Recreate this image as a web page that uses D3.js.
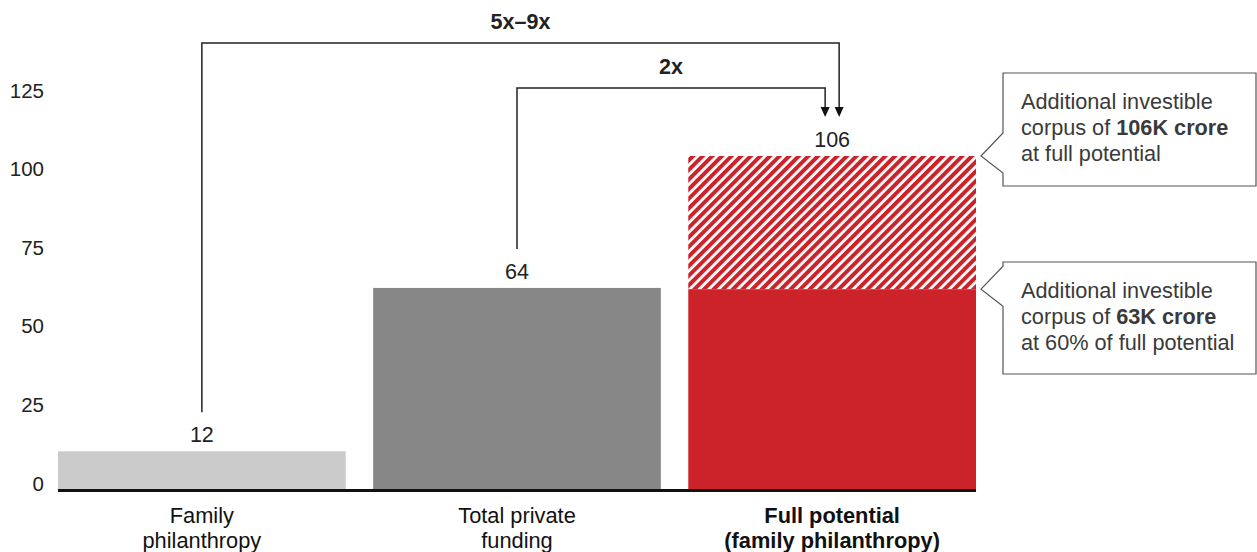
<!DOCTYPE html>
<html>
<head>
<meta charset="utf-8">
<script src="https://cdn.jsdelivr.net/npm/d3@7"></script>
<style>
  html, body { margin: 0; padding: 0; background: #fff; }
  svg { display: block; font-family: "Liberation Sans", Arial, sans-serif; }
</style>
</head>
<body>
<svg id="chart" width="1257" height="552"></svg>
<script>
// Investible corpus (thousand crore)
const categories = ["Family philanthropy", "Total private funding", "Full potential (family philanthropy)"];
const categoryLines = [["Family", "philanthropy"], ["Total private", "funding"], ["Full potential", "(family philanthropy)"]];
const totals = [12, 64, 106];
const solidPart = [12, 64, 63.6];     // solid portion; the remainder of the last bar is hatched
const barColors = ["#cbcbcb", "#878787", "#cc2229"];
const yTicks = [0, 25, 50, 75, 100, 125];
const multipliers = [
  { from: 0, to: 2, label: "5x–9x" },
  { from: 1, to: 2, label: "2x" }
];
const callouts = [
  { at: 106, lines: [["Additional investible"], ["corpus of ", "106K crore"], ["at full potential"]] },
  { at: 63.6, lines: [["Additional investible"], ["corpus of ", "63K crore"], ["at 60% of full potential"]] }
];

const svg = d3.select("#chart");

const x = d3.scaleBand().domain(categories).range([58, 976]).paddingInner(0.087).paddingOuter(0);
const y = d3.scaleLinear().domain([0, 125]).range([489, 96.3]);

// hatch pattern for the unrealised potential
const defs = svg.append("defs");
const pat = defs.append("pattern")
  .attr("id", "hatch")
  .attr("patternUnits", "userSpaceOnUse")
  .attr("width", 6.8).attr("height", 6.8)
  .attr("patternTransform", "rotate(45)");
pat.append("rect").attr("width", 6.8).attr("height", 6.8).attr("fill", "#fff");
pat.append("rect").attr("width", 4).attr("height", 6.8).attr("fill", "#cc2229");

// y axis tick labels
const yAxis = svg.append("g").attr("transform", "translate(44,0)")
  .call(d3.axisLeft(y).tickValues(yTicks).tickSize(0).tickPadding(0));
yAxis.select(".domain").remove();
yAxis.selectAll("text")
  .attr("font-size", 20.5).attr("fill", "#222")
  .attr("font-family", "Liberation Sans, Arial, sans-serif")
  .attr("dy", null).attr("y", 1);

// hatched tops
svg.append("g").selectAll("rect.hatch")
  .data(categories.map((c, i) => ({ c, total: totals[i], solid: solidPart[i] })).filter(d => d.total > d.solid))
  .join("rect")
  .attr("x", d => x(d.c))
  .attr("width", x.bandwidth())
  .attr("y", d => y(d.total))
  .attr("height", d => y(d.solid) - y(d.total))
  .attr("fill", "url(#hatch)");

// solid bars
svg.append("g").selectAll("rect.bar")
  .data(categories.map((c, i) => ({ c, v: solidPart[i], col: barColors[i] })))
  .join("rect")
  .attr("x", d => x(d.c))
  .attr("width", x.bandwidth())
  .attr("y", d => y(d.v))
  .attr("height", d => y(0) - y(d.v))
  .attr("fill", d => d.col);

// baseline
svg.append("line")
  .attr("x1", 58).attr("x2", 976)
  .attr("y1", y(0) + 1.5).attr("y2", y(0) + 1.5)
  .attr("stroke", "#111").attr("stroke-width", 3);

// value labels
svg.append("g").selectAll("text")
  .data(categories.map((c, i) => ({ c, v: totals[i] })))
  .join("text")
  .attr("x", d => x(d.c) + x.bandwidth() / 2)
  .attr("y", d => y(d.v) - 9)
  .attr("text-anchor", "middle")
  .attr("font-size", 21.5).attr("fill", "#222")
  .text(d => d.v);

// category labels
const cat = svg.append("g").selectAll("text")
  .data(categories.map((c, i) => ({ c, lines: categoryLines[i], bold: i === 2 })))
  .join("text")
  .attr("x", d => x(d.c) + x.bandwidth() / 2)
  .attr("y", 523)
  .attr("text-anchor", "middle")
  .attr("font-size", 21.8).attr("fill", "#111")
  .attr("font-weight", d => d.bold ? "bold" : "normal");
cat.selectAll("tspan")
  .data(d => d.lines.map((l, k) => ({ l, k, xx: x(d.c) + x.bandwidth() / 2 })))
  .join("tspan")
  .attr("x", d => d.xx)
  .attr("dy", d => d.k === 0 ? 0 : 25)
  .text(d => d.l);

// growth brackets with arrows
const arrowG = svg.append("g");
const bracketY = [43, 88];
const endOffset = [7, -7];
multipliers.forEach((m, i) => {
  const x0 = x(categories[m.from]) + x.bandwidth() / 2;
  const x1 = x(categories[m.to]) + x.bandwidth() / 2 + endOffset[i];
  const yStart = y(totals[m.from]) - 39;
  const yTip = y(totals[m.to]) - 39;
  const by = bracketY[i];
  arrowG.append("path")
    .attr("d", `M${x0},${yStart}V${by}H${x1}V${yTip - 9}`)
    .attr("fill", "none").attr("stroke", "#222").attr("stroke-width", 1.5);
  arrowG.append("path")
    .attr("d", `M${x1 - 4.5},${yTip - 10}L${x1 + 4.5},${yTip - 10}L${x1},${yTip}Z`)
    .attr("fill", "#111");
  arrowG.append("text")
    .attr("x", (x0 + x1) / 2)
    .attr("y", by - 14)
    .attr("text-anchor", "middle")
    .attr("font-size", 21.5).attr("font-weight", "bold").attr("fill", "#222")
    .text(m.label);
});

// callout boxes
const boxTops = [73, 262];
const boxH = [113, 112];
callouts.forEach((c, i) => {
  const tipY = y(c.at);
  const bx = 1003, bw = 253, top = boxTops[i], h = boxH[i];
  const t1 = tipY - 23, t2 = tipY + 17;
  const g = svg.append("g");
  g.append("path")
    .attr("d", `M${bx},${top}H${bx + bw}V${top + h}H${bx}V${t2}L${981},${tipY}L${bx},${t1}Z`)
    .attr("fill", "#fff").attr("stroke", "#555").attr("stroke-width", 1.2);
  const txt = g.append("text")
    .attr("x", 1021).attr("y", top + 36)
    .attr("font-size", 21.7).attr("fill", "#3a3a3a");
  c.lines.forEach((parts, k) => {
    parts.forEach((p, j) => {
      const ts = txt.append("tspan").text(p);
      if (j === 0) ts.attr("x", 1021).attr("dy", k === 0 ? 0 : 26);
      if (j === 1) ts.attr("font-weight", "bold");
    });
  });
});
</script>
</body>
</html>
